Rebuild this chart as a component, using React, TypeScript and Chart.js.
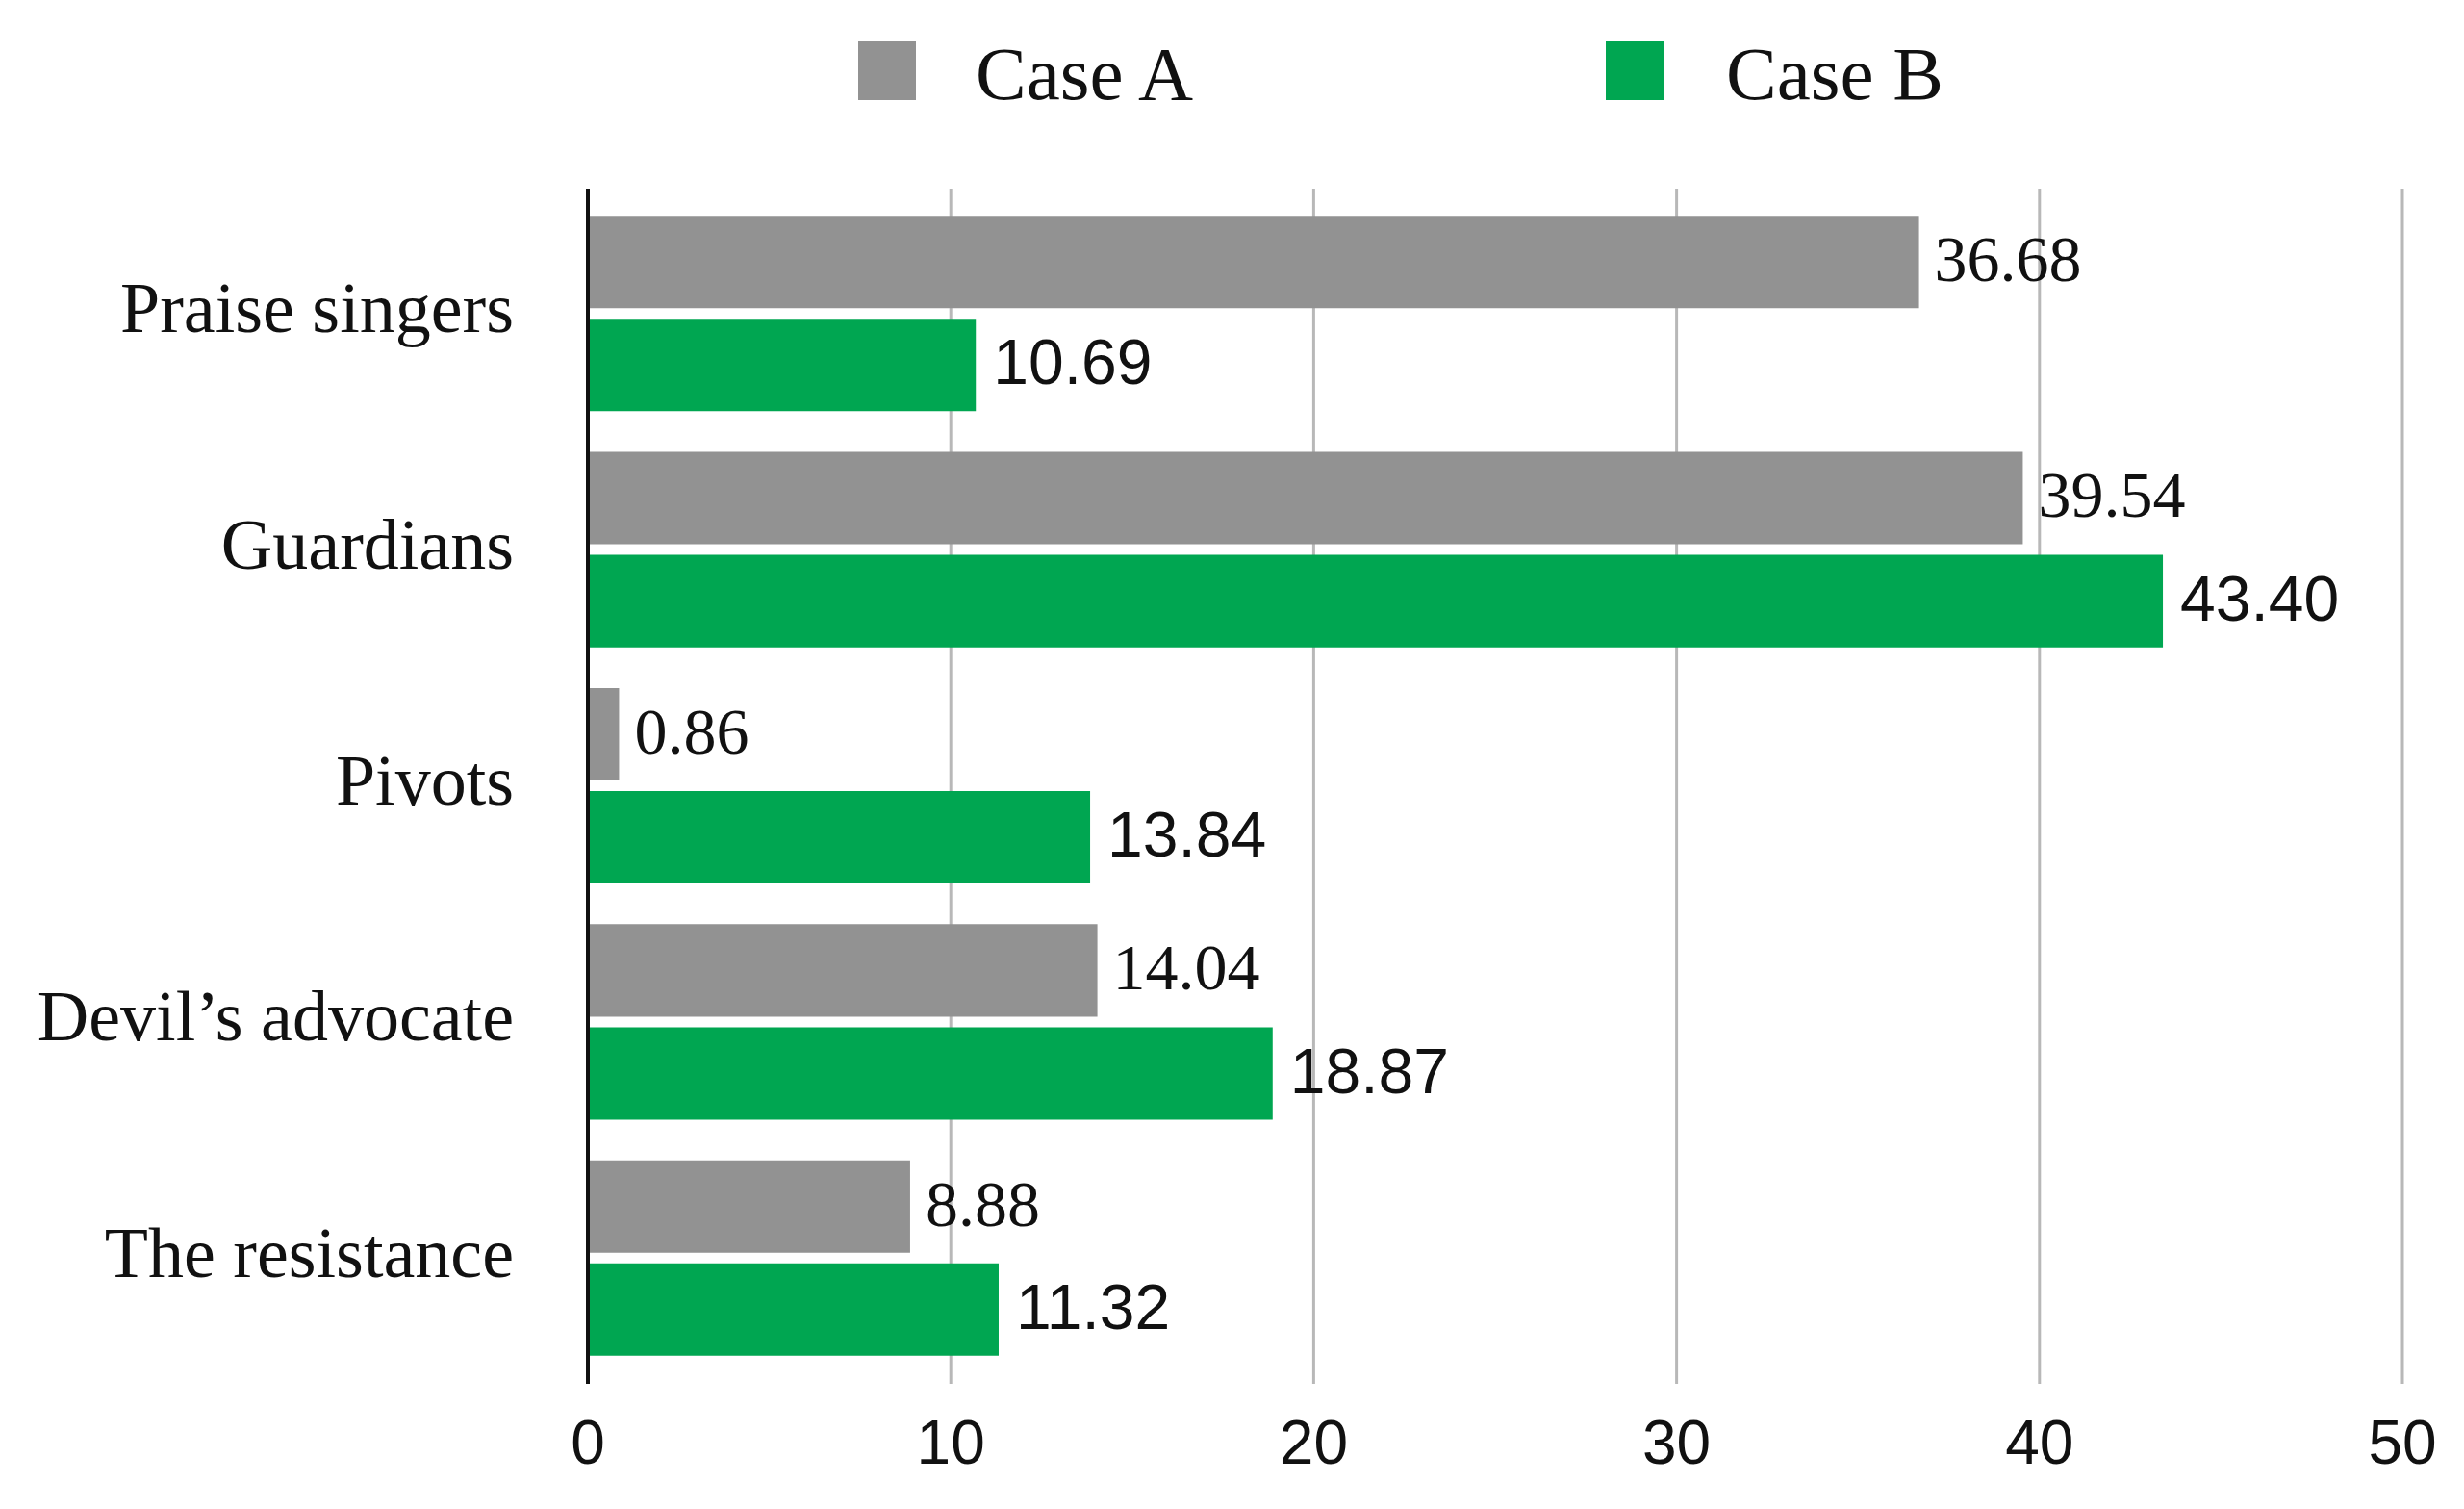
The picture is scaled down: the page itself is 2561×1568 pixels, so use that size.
import React, { useEffect, useRef } from 'react';
import { Chart, registerables } from 'chart.js';

Chart.register(...registerables);

const categories = ['Praise singers', 'Guardians', 'Pivots', 'Devil\u2019s advocate', 'The resistance'];
const caseA = [36.68, 39.54, 0.86, 14.04, 8.88];
const caseB = [10.69, 43.4, 13.84, 18.87, 11.32];
const seriesNames = ['Case A', 'Case B'];
const xTickValues = [0, 10, 20, 30, 40, 50];

const GRAY = '#929292';
const GREEN = '#00A651';

const framePlugin = {
  id: 'frame',
  beforeDatasetsDraw(chart: any) {
    const { ctx, chartArea } = chart;
    const xs = chart.scales.x;
    ctx.save();
    ctx.strokeStyle = '#b8b8b8';
    ctx.lineWidth = 3;
    xTickValues.forEach((v) => {
      if (v === 0) return;
      const px = xs.getPixelForValue(v);
      ctx.beginPath();
      ctx.moveTo(px, chartArea.top - 7);
      ctx.lineTo(px, chartArea.bottom + 8);
      ctx.stroke();
    });
    ctx.restore();
  },
  afterDatasetsDraw(chart: any) {
    const { ctx, chartArea } = chart;
    const xs = chart.scales.x;
    ctx.save();
    ctx.strokeStyle = '#111';
    ctx.lineWidth = 4;
    const p0 = xs.getPixelForValue(0);
    ctx.beginPath();
    ctx.moveTo(p0, chartArea.top - 7);
    ctx.lineTo(p0, chartArea.bottom + 8);
    ctx.stroke();

    const styles = [
      { font: '68px "Liberation Serif"', off: 16 },
      { font: '66px "Liberation Sans"', off: 18 },
    ];
    chart.data.datasets.forEach((ds: any, i: number) => {
      const meta = chart.getDatasetMeta(i);
      ctx.font = styles[i].font;
      ctx.fillStyle = '#111';
      ctx.textAlign = 'left';
      ctx.textBaseline = 'middle';
      meta.data.forEach((bar: any, j: number) => {
        const v = ds.data[j] as number;
        ctx.fillText(v.toFixed(2), bar.x + styles[i].off, bar.y + 2);
      });
    });
    ctx.restore();
  },
};

export default function App() {
  const ref = useRef<HTMLCanvasElement | null>(null);

  useEffect(() => {
    document.body.style.margin = '0';
    if (!ref.current) return;
    const chart = new Chart(ref.current, {
      type: 'bar',
      data: {
        labels: categories,
        datasets: [
          {
            label: seriesNames[0],
            data: caseA,
            backgroundColor: GRAY,
            categoryPercentage: 0.8726,
            barPercentage: 0.897,
          },
          {
            label: seriesNames[1],
            data: caseB,
            backgroundColor: GREEN,
            categoryPercentage: 0.8726,
            barPercentage: 0.897,
          },
        ],
      },
      options: {
        indexAxis: 'y',
        responsive: false,
        animation: false,
        devicePixelRatio: 1,
        layout: { padding: { left: 0, right: 64, top: 203, bottom: 0 } },
        plugins: {
          legend: { display: false },
          tooltip: { enabled: false },
        },
        scales: {
          y: {
            type: 'category',
            grid: { display: false, drawTicks: false },
            border: { display: false },
            ticks: {
              color: '#111',
              font: { family: 'Liberation Serif', size: 74 },
              padding: 77,
            },
            afterFit: (s: any) => {
              s.width = 611;
              s.paddingTop = 0;
              s.paddingBottom = 0;
            },
          },
          x: {
            type: 'linear',
            min: 0,
            max: 50,
            grid: { display: false, drawTicks: false },
            border: { display: false },
            ticks: {
              stepSize: 10,
              color: '#111',
              font: { family: 'Liberation Sans', size: 64 },
              padding: 35,
            },
            afterFit: (s: any) => {
              s.height = 138;
              s.paddingLeft = 0;
              s.paddingRight = 0;
            },
          },
        },
      } as any,
      plugins: [framePlugin],
    });
    return () => chart.destroy();
  }, []);

  const legendText: React.CSSProperties = {
    position: 'absolute',
    top: 37,
    fontFamily: '"Liberation Serif"',
    fontSize: 79,
    lineHeight: '79px',
    color: '#111',
    whiteSpace: 'nowrap',
  };
  const legendBox: React.CSSProperties = {
    position: 'absolute',
    top: 43,
    width: 60,
    height: 61,
  };

  return (
    <div style={{ position: 'relative', width: 2561, height: 1568, background: '#fff' }}>
      <canvas ref={ref} width={2561} height={1568} style={{ display: 'block', width: 2561, height: 1568 }} />
      <div style={{ ...legendBox, left: 892, background: GRAY }} />
      <div style={{ ...legendText, left: 1014 }}>{seriesNames[0]}</div>
      <div style={{ ...legendBox, left: 1669, background: GREEN }} />
      <div style={{ ...legendText, left: 1794 }}>{seriesNames[1]}</div>
    </div>
  );
}
